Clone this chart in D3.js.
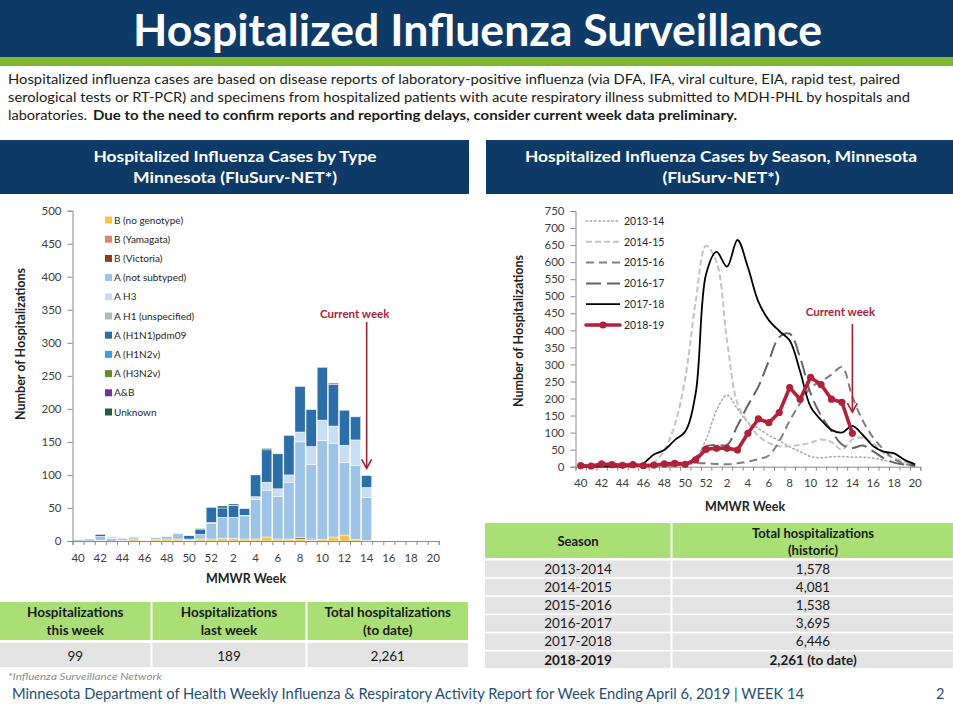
<!DOCTYPE html>
<html>
<head>
<meta charset="utf-8">
<script src="https://cdn.jsdelivr.net/npm/d3@7"></script>
<style>
  body { margin: 0; background: #fff; }
  svg text { font-family: Lato, 'Open Sans', sans-serif; }
</style>
</head>
<body>
<div id="page"></div>
<script>
// MMWR weeks on both x axes (week 40 of 2018 through week 20 of 2019)
const weeks = ['40','41','42','43','44','45','46','47','48','49','50','51','52',
  '1','2','3','4','5','6','7','8','9','10','11','12','13','14','15','16','17','18','19','20'];
const tickWeeks = weeks.filter((w, i) => i % 2 === 0);
const barWeeks = weeks.slice(0, 27); // weeks 40..14 have data

// left chart: cases by type, one array per type (weeks 40..14)
const typeKeys = ['B (no genotype)','B (Yamagata)','B (Victoria)','A (not subtyped)','A H3',
  'A H1 (unspecified)','A (H1N1)pdm09','A (H1N2v)','A (H3N2v)','A&B','Unknown'];
const typeColors = ['#fbc23e','#de8571','#8a3c1c','#9dc3e6','#c8def2',
  '#a9bdbf','#2b6ea8','#3e9de8','#5d9128','#7030a0','#1b5a56'];
const bNoGenotype = [0,0,1,0,1,3,1,2,3,3,1,3,3,4,4,3,3,6,3,2,2,1,2,6,9,2,1];
const bYamagata   = [0,0,0,0,0,0,0,0,0,0,0,0,0,0,0,0,0,0,0,1,1,2,0,0,0,0,0];
const bVictoria   = [0,0,0,0,0,0,0,0,0,0,0,0,0,0,0,0,0,0,0,0,2,0,0,0,0,0,0];
const aNotSub     = [2,3,6,4,3,3,0,3,4,8,2,7,24,32,32,35,60,71,64,86,145,113,150,142,110,112,65];
const aH3         = [0,0,0,3,0,1,0,0,1,1,0,0,1,0,0,1,4,12,12,11,15,27,31,26,26,39,15];
const aH1Unspec   = [0,0,0,0,0,0,0,0,0,0,0,0,0,0,0,0,0,0,0,0,0,0,0,0,0,0,0];
const aH1N1pdm    = [0,0,3,0,0,0,0,0,0,0,5,8,23,14,18,10,33,49,53,60,69,56,80,63,53,35,18];
const aH1N2v      = [0,0,0,0,0,0,0,0,0,0,0,0,0,0,0,0,0,0,0,0,0,0,0,0,0,0,0];
const aH3N2v      = [0,0,0,0,0,0,0,0,0,0,0,0,0,0,0,0,0,0,0,0,0,0,0,0,0,0,0];
const aAndB       = [0,0,0,0,0,0,0,0,0,0,0,0,0,0,0,0,0,0,0,0,0,0,0,2,0,1,0];
const unknownType = [0,0,0,0,0,0,0,0,0,0,0,1,0,3,2,0,0,2,0,0,0,0,0,0,0,0,0];
const typeSeries = [bNoGenotype,bYamagata,bVictoria,aNotSub,aH3,aH1Unspec,aH1N1pdm,aH1N2v,aH3N2v,aAndB,unknownType];

// right chart: hospitalizations by season
const seasonNames = ['2013-14','2014-15','2015-16','2016-17','2017-18','2018-19'];
const s2013 = [0,0,0,0,0,0,0,0,1,2,5,25,80,165,210,170,130,112,92,76,58,44,30,26,29,30,28,28,25,19,12,7,3];
const s2014 = [0,0,0,0,0,0,1,12,49,122,259,484,648,600,370,185,130,90,70,60,60,64,70,80,72,50,80,85,68,40,25,14,6];
const s2015 = [2,2,2,3,3,3,4,4,5,6,8,10,10,8,7,10,15,22,33,75,135,186,232,250,270,292,205,135,85,50,22,9,3];
const s2016 = [2,2,2,2,2,2,2,2,3,4,8,28,60,64,64,120,180,235,310,380,390,320,215,150,105,65,55,62,45,25,12,6,3];
const s2017 = [0,0,0,0,1,2,10,36,49,78,103,215,565,630,587,665,585,484,430,398,370,279,176,137,108,100,120,93,60,44,39,20,7];
const s2018 = [3,2,8,6,4,6,3,5,8,10,7,20,51,54,54,49,98,140,129,159,232,198,262,241,198,189,98];
const seasonSeries = [s2013,s2014,s2015,s2016,s2017,s2018];

// tables
const weekHeads = [['Hospitalizations','this week'],['Hospitalizations','last week'],['Total hospitalizations','(to date)']];
const weekValues = ['99','189','2,261'];
const seasonLabels = ['2013-2014','2014-2015','2015-2016','2016-2017','2017-2018','2018-2019'];
const seasonTotals = ['1,578','4,081','1,538','3,695','6,446','2,261 (to date)'];

const navy = '#0d3a66', green = '#7cb82f', tableGreen = '#a9df74', cellGray = '#e3e3e3';
const red = '#b0213a', axisGray = '#8a8a8a', textGray = '#404040';

const svg = d3.select('#page').append('svg').attr('width', 953).attr('height', 705);

function fitText(sel, w) {
  sel.attr('textLength', w).attr('lengthAdjust', 'spacingAndGlyphs');
  return sel;
}

// ---- header ----
svg.append('rect').attr('x',0).attr('y',0).attr('width',953).attr('height',57).attr('fill',navy);
svg.append('rect').attr('x',0).attr('y',57).attr('width',953).attr('height',9).attr('fill',green);
fitText(svg.append('text').attr('x',133).attr('y',46).attr('fill','#fff')
  .attr('font-size',44).attr('font-weight','bold').text('Hospitalized Influenza Surveillance'), 689);

const para = [
  ['Hospitalized influenza cases are based on disease reports of laboratory-positive influenza (via DFA, IFA, viral culture, EIA, rapid test, paired', 8, 84, 892, 'normal'],
  ['serological tests or RT-PCR) and specimens from hospitalized patients with acute respiratory illness submitted to MDH-PHL by hospitals and', 8, 102, 902, 'normal'],
  ['laboratories.', 8, 120, 79, 'normal'],
  ['Due to the need to confirm reports and reporting delays, consider current week data preliminary.', 93, 120, 644, 'bold']
];
para.forEach(p => {
  fitText(svg.append('text').attr('x',p[1]).attr('y',p[2]).attr('font-size',14)
    .attr('font-weight',p[4]).attr('fill','#1a1a1a').text(p[0]), p[3]);
});

// panel headers
[[0,469,235,['Hospitalized Influenza Cases by Type','Minnesota (FluSurv-NET*)'],[283,204]],
 [486,467,721,['Hospitalized Influenza Cases by Season, Minnesota','(FluSurv-NET*)'],[392,117]]]
.forEach(h => {
  svg.append('rect').attr('x',h[0]).attr('y',140).attr('width',h[1]).attr('height',54).attr('fill',navy);
  h[3].forEach((t, i) => {
    fitText(svg.append('text').attr('x',h[2] - h[4][i]/2).attr('y',162 + i*21)
      .attr('font-size',15.5).attr('font-weight','bold').attr('fill','#fff').text(t), h[4][i]);
  });
});

function styleAxis(g) {
  g.select('.domain').attr('stroke', axisGray);
  g.selectAll('.tick line').attr('stroke', axisGray);
  g.selectAll('.tick text').attr('fill', textGray).attr('font-size', 11.5)
    .attr('font-family', 'Lato, sans-serif');
}

// ---- left chart: stacked bars ----
const xL = d3.scaleBand().domain(weeks).range([72.5, 438.8]).paddingInner(0.08).paddingOuter(0.04);
const xLi = d3.scaleLinear().domain([0, 33]).range([72.5, 438.8]);
const yL = d3.scaleLinear().domain([0, 500]).range([541, 210.7]);

const barRows = barWeeks.map((w, i) => {
  const r = { week: w };
  typeKeys.forEach((k, j) => { r[k] = typeSeries[j][i]; });
  return r;
});
const stacked = d3.stack().keys(typeKeys)(barRows);

svg.append('g').selectAll('g').data(stacked).join('g')
  .attr('fill', (d, i) => typeColors[i])
  .selectAll('rect').data(d => d.filter(s => s[1] > s[0])).join('rect')
  .attr('x', d => xL(d.data.week))
  .attr('width', xL.bandwidth())
  .attr('y', d => yL(d[1]))
  .attr('height', d => yL(d[0]) - yL(d[1]))
  .attr('stroke', '#fff').attr('stroke-width', 0.5);

svg.append('g').attr('transform','translate(72.5,0)')
  .call(d3.axisLeft(yL).tickValues(d3.range(0, 501, 50)).tickSize(5).tickPadding(6))
  .call(styleAxis);
svg.append('g').attr('transform','translate(0,541)')
  .call(d3.axisBottom(xLi).tickValues(d3.range(34)).tickSize(4).tickFormat(''))
  .call(styleAxis);
svg.append('g').attr('transform','translate(0,541)')
  .call(d3.axisBottom(xL).tickValues(tickWeeks).tickSize(0).tickPadding(13))
  .call(styleAxis).call(g => g.select('.domain').remove());

svg.append('text').attr('transform','translate(25,344) rotate(-90)').attr('text-anchor','middle')
  .attr('font-size',12.5).attr('font-weight','bold').attr('fill','#222').text('Number of Hospitalizations');
svg.append('text').attr('x',246).attr('y',583).attr('text-anchor','middle')
  .attr('font-size',12.5).attr('font-weight','bold').attr('fill','#222').text('MMWR Week');

// left legend
const legL = svg.append('g').attr('transform','translate(105,220)');
typeKeys.forEach((k, i) => {
  const row = legL.append('g').attr('transform', `translate(0,${i * 19.2})`);
  row.append('rect').attr('x',0).attr('y',-3.5).attr('width',7).attr('height',7).attr('fill',typeColors[i]);
  row.append('text').attr('x',9).attr('y',3.5).attr('font-size',10).attr('fill','#262626').text(k);
});

// current week annotations
function currentWeek(cx, yTop, yTip, textY) {
  svg.append('text').attr('x', cx - 12).attr('y', textY).attr('text-anchor','middle')
    .attr('font-size',11.5).attr('font-weight','bold').attr('fill',red).text('Current week');
  svg.append('line').attr('x1',cx).attr('x2',cx).attr('y1',yTop).attr('y2',yTip)
    .attr('stroke','#a31f34').attr('stroke-width',1.6);
  svg.append('path').attr('d',`M${cx-5},${yTip-9}L${cx},${yTip}L${cx+5},${yTip-9}`)
    .attr('fill','none').attr('stroke','#a31f34').attr('stroke-width',1.6);
}
currentWeek(xL('14') + xL.bandwidth()/2, 322, yL(110), 318);

// ---- right chart: season lines ----
const xR = d3.scaleBand().domain(weeks).range([575.5, 920.3]);
const xRi = d3.scaleLinear().domain([0, 33]).range([575.5, 920.3]);
const yR = d3.scaleLinear().domain([0, 750]).range([466.7, 211]);
const xc = w => xR(w) + xR.bandwidth() / 2;

svg.append('g').attr('transform','translate(575.5,0)')
  .call(d3.axisLeft(yR).tickValues(d3.range(0, 751, 50)).tickSize(5).tickPadding(6))
  .call(styleAxis);
svg.append('g').attr('transform','translate(0,466.7)')
  .call(d3.axisBottom(xRi).tickValues(d3.range(34)).tickSize(4).tickFormat(''))
  .call(styleAxis);
svg.append('g').attr('transform','translate(0,466.7)')
  .call(d3.axisBottom(xR).tickValues(tickWeeks).tickSize(0).tickPadding(12))
  .call(styleAxis).call(g => g.select('.domain').remove());

svg.append('text').attr('transform','translate(523,331) rotate(-90)').attr('text-anchor','middle')
  .attr('font-size',12.5).attr('font-weight','bold').attr('fill','#222').text('Number of Hospitalizations');
svg.append('text').attr('x',745).attr('y',511).attr('text-anchor','middle')
  .attr('font-size',12.5).attr('font-weight','bold').attr('fill','#222').text('MMWR Week');

const seasonStyle = [
  { stroke: '#a6a6a6', width: 1.5, dash: '1.5,2.8', cap: 'round' },
  { stroke: '#c3c3c3', width: 2, dash: '6,3', cap: 'butt' },
  { stroke: '#7f7f7f', width: 2, dash: '8,5', cap: 'butt' },
  { stroke: '#646464', width: 2, dash: '15,6', cap: 'butt' },
  { stroke: '#000', width: 1.8, dash: null, cap: 'butt' },
  { stroke: red, width: 3.6, dash: null, cap: 'round' }
];

const smooth = d3.line().x((d, i) => xc(weeks[i])).y(d => yR(d)).curve(d3.curveCatmullRom.alpha(0.5));
const straight = d3.line().x((d, i) => xc(weeks[i])).y(d => yR(d));

seasonSeries.forEach((s, k) => {
  const st = seasonStyle[k];
  svg.append('path').datum(s)
    .attr('d', k === 5 ? straight : smooth)
    .attr('fill','none').attr('stroke',st.stroke).attr('stroke-width',st.width)
    .attr('stroke-dasharray',st.dash).attr('stroke-linecap',st.cap).attr('stroke-linejoin','round');
});
svg.append('g').selectAll('circle').data(s2018).join('circle')
  .attr('cx', (d, i) => xc(weeks[i])).attr('cy', d => yR(d)).attr('r', 3.6).attr('fill', red);

// right legend
const legR = svg.append('g').attr('transform','translate(586,221)');
seasonNames.forEach((n, i) => {
  const st = seasonStyle[i];
  const row = legR.append('g').attr('transform', `translate(0,${i * 20.8})`);
  row.append('line').attr('x1',0).attr('x2',34).attr('y1',0).attr('y2',0)
    .attr('stroke',st.stroke).attr('stroke-width',st.width)
    .attr('stroke-dasharray',st.dash).attr('stroke-linecap',st.cap);
  if (i === 5) row.append('circle').attr('cx',17).attr('cy',0).attr('r',3.6).attr('fill',red);
  row.append('text').attr('x',38).attr('y',3.8).attr('font-size',10.5).attr('fill','#262626').text(n);
});

currentWeek(xc('14'), 324, yR(160), 316);

// ---- left table ----
const colsL = [[0,150.5],[152.5,305.5],[307.5,468]];
colsL.forEach((c, i) => {
  const cx = (c[0] + c[1]) / 2;
  svg.append('rect').attr('x',c[0]).attr('y',602).attr('width',c[1]-c[0]).attr('height',38).attr('fill',tableGreen);
  svg.append('rect').attr('x',c[0]).attr('y',643).attr('width',c[1]-c[0]).attr('height',24).attr('fill',cellGray);
  weekHeads[i].forEach((t, j) => {
    svg.append('text').attr('x',cx).attr('y',617 + j*18).attr('text-anchor','middle')
      .attr('font-size',13.5).attr('font-weight','bold').attr('fill','#1a1a1a').text(t);
  });
  svg.append('text').attr('x',cx).attr('y',661).attr('text-anchor','middle')
    .attr('font-size',13.5).attr('fill','#1a1a1a').text(weekValues[i]);
});

// ---- right table ----
const colsR = [[485,670.5],[672.5,953]];
colsR.forEach(c => {
  svg.append('rect').attr('x',c[0]).attr('y',523).attr('width',c[1]-c[0]).attr('height',35).attr('fill',tableGreen);
});
svg.append('text').attr('x',578).attr('y',546).attr('text-anchor','middle')
  .attr('font-size',13).attr('font-weight','bold').attr('fill','#1a1a1a').text('Season');
svg.append('text').attr('x',813).attr('y',538).attr('text-anchor','middle')
  .attr('font-size',13).attr('font-weight','bold').attr('fill','#1a1a1a').text('Total hospitalizations');
svg.append('text').attr('x',813).attr('y',555).attr('text-anchor','middle')
  .attr('font-size',13).attr('font-weight','bold').attr('fill','#1a1a1a').text('(historic)');
seasonLabels.forEach((s, i) => {
  const y0 = 560.5 + i * 18.2;
  const bold = i === seasonLabels.length - 1 ? 'bold' : 'normal';
  colsR.forEach(c => {
    svg.append('rect').attr('x',c[0]).attr('y',y0).attr('width',c[1]-c[0]).attr('height',16.6).attr('fill',cellGray);
  });
  svg.append('text').attr('x',578).attr('y',y0 + 13).attr('text-anchor','middle')
    .attr('font-size',13.5).attr('font-weight',bold).attr('fill','#1a1a1a').text(s);
  svg.append('text').attr('x',813).attr('y',y0 + 13).attr('text-anchor','middle')
    .attr('font-size',13.5).attr('font-weight',bold).attr('fill','#1a1a1a').text(seasonTotals[i]);
});

// ---- footnote + footer ----
fitText(svg.append('text').attr('x',8).attr('y',680).attr('font-size',10).attr('font-style','italic')
  .attr('fill','#8c8c8c').text('*Influenza Surveillance Network'), 154);
fitText(svg.append('text').attr('x',12).attr('y',699).attr('font-size',14.5).attr('fill','#1f4e79')
  .text('Minnesota Department of Health Weekly Influenza & Respiratory Activity Report for Week Ending April 6, 2019 | WEEK 14'), 792);
svg.append('text').attr('x',936).attr('y',699).attr('font-size',14.5).attr('fill','#1f4e79').text('2');
</script>
</body>
</html>
